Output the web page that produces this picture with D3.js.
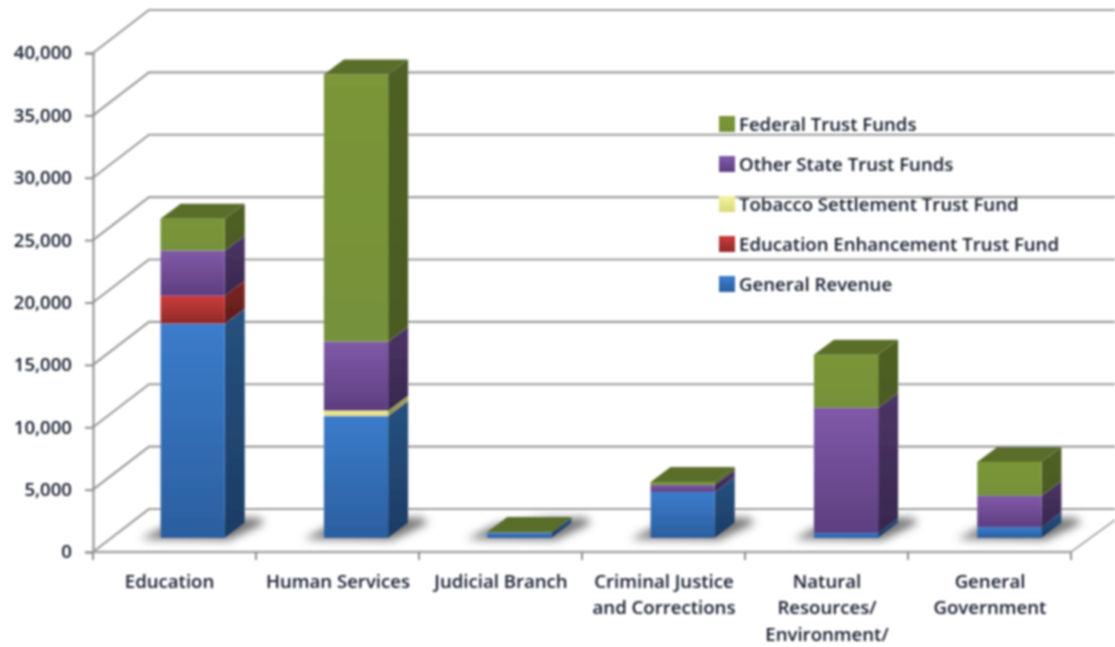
<!DOCTYPE html>
<html>
<head>
<meta charset="utf-8">
<script src="https://cdn.jsdelivr.net/npm/d3@7"></script>
<style>
body{margin:0;background:#fff;}
text{font-family:"Open Sans",sans-serif;font-size:18.6px;font-weight:600;fill:#141a2c;}
</style>
</head>
<body>
<svg id="box" width="1115" height="647"></svg>
<script>
let categories=["Education","Human Services","Judicial Branch","Criminal Justice and Corrections","Natural Resources/ Environment/","General Government"];
let catLines=[["Education"],["Human Services"],["Judicial Branch"],["Criminal Justice","and Corrections"],["Natural","Resources/","Environment/"],["General","Government"]];
let generalRevenue=[17175,9790,400,3690,400,880];
let educationEnh=[2245,0,0,0,0,0];
let tobacco=[0,400,0,0,0,0];
let otherState=[3610,5540,0,560,10030,2490];
let federal=[2570,21420,80,240,4260,2730];
let seriesNames=["General Revenue","Education Enhancement Trust Fund","Tobacco Settlement Trust Fund","Other State Trust Funds","Federal Trust Funds"];
let yTicks=[0,5000,10000,15000,20000,25000,30000,35000,40000];

// front/side/top colours per series
let cols=[
 {a:"#3c7ccb",b:"#2b5f9f",sa:"#26527f",sb:"#1c3c66"},
 {a:"#cb3b3a",b:"#8f2a29",sa:"#802624",sb:"#5e1c1b"},
 {a:"#f2f29a",b:"#d8d87c",sa:"#a8a860",sb:"#8c8c4c"},
 {a:"#8059a8",b:"#5e3f80",sa:"#4c3566",sb:"#38274e"},
 {a:"#7b9639",b:"#76913a",sa:"#4f6125",sb:"#4b5c22"}
];
let topCol="#5a6e2b";

let box=d3.select("#box");
let x=d3.scaleBand().domain(categories).range([93,1073]).paddingInner(0.607).paddingOuter(0.3035);
let xTick=d3.scaleLinear().domain([0,categories.length]).range([93,1071]);
let xLabel=d3.scalePoint().domain(categories).range([175,990]);
let y=d3.scaleLinear().domain([0,40000]).range([552,53]);

// wall depth, bar offset in from the front, bar depth
let wall={x:56,y:-43},off={x:18,y:-14},dep={x:20,y:-15};

let rows=categories.map((c,i)=>({cat:c,s0:generalRevenue[i],s1:educationEnh[i],s2:tobacco[i],s3:otherState[i],s4:federal[i]}));
let stacked=d3.stack().keys(["s0","s1","s2","s3","s4"])(rows);

let defs=box.append("defs");
// the reference is a soft upscaled image, below 0.8 the blur does nothing here
defs.append("filter").attr("id","soft").attr("filterUnits","userSpaceOnUse").attr("x",0).attr("y",0).attr("width",1115).attr("height",647)
  .append("feGaussianBlur").attr("stdDeviation",0.8);
defs.append("filter").attr("id","shadow").attr("x","-30%").attr("y","-50%").attr("width","160%").attr("height","200%")
  .append("feGaussianBlur").attr("stdDeviation",4);
cols.forEach((c,i)=>{
  let f=defs.append("linearGradient").attr("id","f"+i).attr("x1",0).attr("y1",0).attr("x2",0).attr("y2",1);
  f.append("stop").attr("offset","0%").attr("stop-color",c.a);
  f.append("stop").attr("offset","100%").attr("stop-color",c.b);
  let s=defs.append("linearGradient").attr("id","s"+i).attr("x1",0).attr("y1",0).attr("x2",0).attr("y2",1);
  s.append("stop").attr("offset","0%").attr("stop-color",c.sa);
  s.append("stop").attr("offset","100%").attr("stop-color",c.sb);
});

let g=box.append("g").attr("filter","url(#soft)");

// gridlines, back wall + diagonal on the left side
let grid=g.append("g");
yTicks.forEach(t=>{
  grid.append("path").attr("fill","none").attr("stroke","#9c9c9c").attr("stroke-width",2.2)
    .attr("d",d3.line()([[93,y(t)],[93+wall.x,y(t)+wall.y],[1115,y(t)+wall.y]]));
});
// right end of the floor
grid.append("line").attr("x1",1071).attr("y1",552).attr("x2",1115).attr("y2",520).attr("stroke","#a8a8a8").attr("stroke-width",1.8);

// axes
let yAxis=d3.axisLeft(y).tickValues(yTicks).tickFormat(d3.format(",")).tickSize(8).tickPadding(13);
let ya=g.append("g").attr("transform","translate(93,0)").call(yAxis);
ya.selectAll("path,line").attr("stroke","#8e8e8e").attr("stroke-width",2);
ya.attr("font-family",null).attr("font-size",null);

g.append("line").attr("x1",93).attr("x2",1071).attr("y1",y(0)).attr("y2",y(0)).attr("stroke","#a4a4a4").attr("stroke-width",2.4);
d3.range(categories.length+1).forEach(i=>{
  g.append("line").attr("x1",xTick(i)).attr("x2",xTick(i)).attr("y1",y(0)).attr("y2",y(0)+8).attr("stroke","#8e8e8e").attr("stroke-width",2);
});

// floor shadows
let shadows=g.append("g");
rows.forEach(r=>{
  let l=x(r.cat)+off.x,w=x.bandwidth(),b=y(0)+off.y;
  shadows.append("path").attr("fill","#757575").attr("filter","url(#shadow)")
    .attr("d",d3.line()([[l-20,b+1],[l+w+4,b+2],[l+w+dep.x+20,b+dep.y],[l+w+dep.x+14,b+dep.y-5],[l+w,b+dep.y-5],[l+10,b-14]])+"Z");
});

// bars
let bars=g.append("g");
stacked.forEach((layer,si)=>{
  layer.forEach(d=>{
    if(d[1]-d[0]<=0)return;
    let l=x(d.data.cat)+off.x,w=x.bandwidth();
    let yT=y(d[1])+off.y,yB=y(d[0])+off.y;
    bars.append("path").attr("fill","url(#s"+si+")")
      .attr("d",d3.line()([[l+w,yB],[l+w+dep.x,yB+dep.y],[l+w+dep.x,yT+dep.y],[l+w,yT]])+"Z");
    bars.append("rect").attr("x",l).attr("y",yT).attr("width",w).attr("height",yB-yT).attr("fill","url(#f"+si+")");
  });
});
// top faces take the colour of the top series
rows.forEach((r,i)=>{
  let t=d3.sum(stacked.map(s=>s[i][1]-s[i][0]));
  let l=x(r.cat)+off.x,w=x.bandwidth(),yT=y(t)+off.y;
  bars.append("path").attr("fill",topCol)
    .attr("d",d3.line()([[l,yT],[l+dep.x,yT+dep.y],[l+w+dep.x,yT+dep.y],[l+w,yT]])+"Z");
});

// category labels, Education sits a bit left of its slot
catLines.forEach((lines,i)=>{
  lines.forEach((s,j)=>{
    g.append("text").attr("text-anchor","middle").attr("x",xLabel(categories[i])-(i==0?5.5:0))
      .attr("y",587.5+j*26.8).text(s);
  });
});

// legend
let legY=d3.scalePoint().domain(seriesNames).range([284,124]);
seriesNames.forEach((n,i)=>{
  g.append("rect").attr("x",719).attr("y",legY(n)-8).attr("width",16).attr("height",16).attr("fill","url(#f"+i+")");
  g.append("path").attr("fill",cols[i].a).attr("opacity",0.7)
    .attr("d",d3.line()([[719,legY(n)-8],[735,legY(n)-8],[727,legY(n)-1]])+"Z");
  g.append("text").attr("x",739).attr("y",legY(n)+7).text(n);
});
</script>
</body>
</html>
